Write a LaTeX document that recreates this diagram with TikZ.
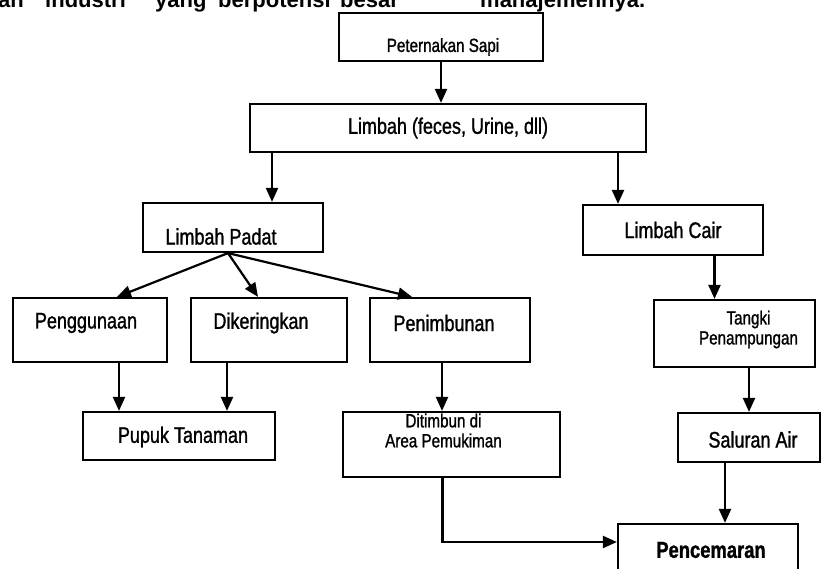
\documentclass[tikz,border=0pt]{standalone}
\usepackage{fontspec}
\setmainfont{Liberation Sans}
\newfontfamily\narrowfont[FakeStretch=0.8, FakeBold=1.2]{Liberation Sans}
\usetikzlibrary{arrows.meta}

\tikzset{
  box/.style={draw, line width=2.2pt, inner sep=0pt},
  lbl/.style={font=\narrowfont\fontsize{22.5}{24}\selectfont, inner sep=0pt},
  small/.style={font=\narrowfont\fontsize{19}{20}\selectfont, align=center, inner sep=0pt},
  arr/.style={line width=2.2pt, -{Triangle[length=14pt,width=12pt]}},
  head/.style={font=\bfseries\fontsize{22}{24}\selectfont, inner sep=0pt, anchor=base west},
}

\begin{document}
\begin{tikzpicture}[x=1pt, y=-1pt]
  \clip (0,0) rectangle (822,569);
  \fill[white] (0,0) rectangle (822,569);

  % cut-off line of the page text
  \foreach \w/\x [count=\i] in {an/-2, industri/45, yang/155, berpotensi/218, besar/340, manajemennya./480}
    \node[head] (word\i) at (\x,8) {\w};

  %%%%% boxes %%%%%
  \node[box, minimum width=204pt, minimum height=48pt,
        label={[small, shift={(2,10)}]center:Peternakan Sapi}] (ternak) at (441,37) {};
  \node[box, minimum width=396pt, minimum height=48pt,
        label={[lbl]center:Limbah (feces, Urine, dll)}] (limbah) at (448,128) {};

  \node[box, minimum width=180pt, minimum height=49pt,
        label={[lbl, shift={(-12,9)}]center:Limbah Padat}] (padat) at (233,227.5) {};
  \node[box, minimum width=180pt, minimum height=50pt,
        label={[lbl]center:Limbah Cair}] (cair) at (673,230) {};

  \node[box, minimum width=154pt, minimum height=64pt,
        label={[lbl, shift={(-4,-7)}]center:Penggunaan}] (guna) at (90,330) {};
  \node[box, minimum width=156pt, minimum height=64pt,
        label={[lbl, shift={(-8,-7)}]center:Dikeringkan}] (kering) at (269,330) {};
  \node[box, minimum width=160pt, minimum height=64pt,
        label={[lbl, shift={(-6,-7)}]center:Penimbunan}] (timbun) at (450,330) {};
  \node[box, minimum width=161pt, minimum height=67pt,
        label={[small, shift={(14,-4)}]center:Tangki\\Penampungan}] (tangki) at (734.5,333.5) {};

  \node[box, minimum width=192pt, minimum height=48pt,
        label={[lbl, shift={(4,1)}]center:Pupuk Tanaman}] (pupuk) at (179,436) {};
  \node[box, minimum width=217pt, minimum height=65pt,
        label={[small, shift={(-8,-14)}]center:Ditimbun di\\Area Pemukiman}] (area) at (451.5,444.5) {};
  \node[box, minimum width=142pt, minimum height=49pt,
        label={[lbl, shift={(4,2)}]center:Saluran Air}] (saluran) at (749,437.5) {};

  \node[box, minimum width=180pt, minimum height=60pt,
        label={[lbl, font=\narrowfont\bfseries\fontsize{23}{25}\selectfont, shift={(3,-4)}]center:Pencemaran}] (cemar) at (708,554) {};

  %%%%% arrows %%%%%
  \draw[arr] (ternak.south) -- (ternak.south |- limbah.north);
  \draw[arr] ([xshift=39pt]padat.north |- limbah.south) -- ([xshift=39pt]padat.north);
  \draw[arr] ([xshift=-55pt]cair.north |- limbah.south) -- ([xshift=-55pt]cair.north);

  \draw[arr] ([xshift=-5pt]padat.south) -- ([xshift=27pt]guna.north);
  \draw[arr] ([xshift=-5pt]padat.south) -- ([xshift=-11pt]kering.north);
  \draw[arr] ([xshift=-5pt]padat.south) -- ([xshift=-38pt]timbun.north);
  \draw[arr] ([xshift=-20pt]tangki.north |- cair.south) -- ([xshift=-20pt]tangki.north);

  \draw[arr] ([xshift=29pt]guna.south) -- ([xshift=29pt]guna.south |- pupuk.north);
  \draw[arr] ([xshift=-42pt]kering.south) -- ([xshift=-42pt]kering.south |- pupuk.north);
  \draw[arr] ([xshift=-8pt]timbun.south) -- ([xshift=-8pt]timbun.south |- area.north);
  \draw[arr] (saluran.north |- tangki.south) -- (saluran.north);

  \draw[arr] ([xshift=17pt]cemar.north |- saluran.south) -- ([xshift=17pt]cemar.north);
  \draw[arr] ([xshift=-9pt]area.south) |- ([yshift=12pt]cemar.west);
\end{tikzpicture}
\end{document}
